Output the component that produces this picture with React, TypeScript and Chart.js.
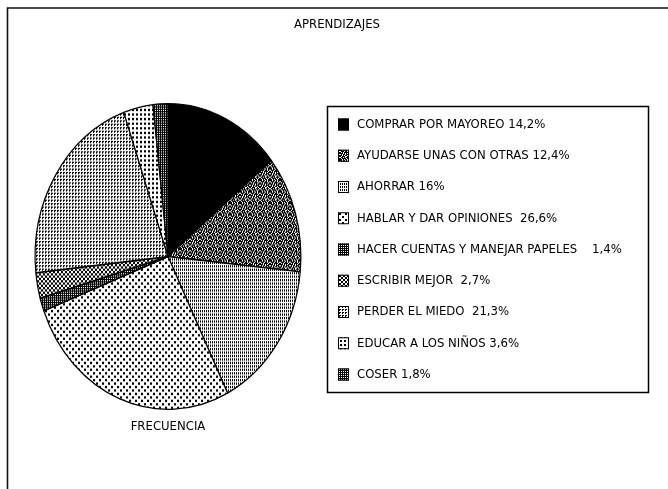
import { useEffect, useRef } from "react";
import { Chart, registerables } from "chart.js";

Chart.register(...registerables);

const TITLE = "APRENDIZAJES";
const PIE_LABEL = "FRECUENCIA";
const categories = [
  "COMPRAR POR MAYOREO",
  "AYUDARSE UNAS CON OTRAS",
  "AHORRAR",
  "HABLAR Y DAR OPINIONES",
  "HACER CUENTAS Y MANEJAR PAPELES",
  "ESCRIBIR MEJOR",
  "PERDER EL MIEDO",
  "EDUCAR A LOS NIÑOS",
  "COSER",
];
const values = [14.2, 12.4, 16, 26.6, 1.4, 2.7, 21.3, 3.6, 1.8];
const legendLabels = [
  "COMPRAR POR MAYOREO 14,2%",
  "AYUDARSE UNAS CON OTRAS 12,4%",
  "AHORRAR 16%",
  "HABLAR Y DAR OPINIONES  26,6%",
  "HACER CUENTAS Y MANEJAR PAPELES    1,4%",
  "ESCRIBIR MEJOR  2,7%",
  "PERDER EL MIEDO  21,3%",
  "EDUCAR A LOS NIÑOS 3,6%",
  "COSER 1,8%",
];

// Halftone tiles for each slice ('#' = black, '.' = white)
const tiles: string[][] = [
  ["#"],
  ["##.##.#.##", ".###.##.#.", "#.#.####.#", "###.#.#.##", ".#.##.###.", "##.#.##.##", "#.###..#.#", ".##.#.###.", "#.####.#.#", "##.#.##.##"],
  ["#.", "#.", ".."],
  ["##....", "##....", "......", "...##.", "...##.", "......"],
  ["##", "#."],
  ["#..#", ".##.", ".##.", "#..#"],
  ["##.", "#..", "..."],
  ["##..", "##..", "....", "...."],
  ["##", "#."],
];

const FONT_FAMILY = "'Liberation Sans Narrow', 'DejaVu Sans Condensed', 'Liberation Sans', sans-serif";

function makePattern(rows: string[]): CanvasPattern | string {
  const h = rows.length;
  const w = rows[0].length;
  const c = document.createElement("canvas");
  c.width = w;
  c.height = h;
  const cx = c.getContext("2d")!;
  cx.fillStyle = "#ffffff";
  cx.fillRect(0, 0, w, h);
  cx.fillStyle = "#000000";
  for (let y = 0; y < h; y++) {
    for (let x = 0; x < w; x++) {
      if (rows[y][x] === "#") cx.fillRect(x, y, 1, 1);
    }
  }
  const p = cx.createPattern(c, "repeat");
  return p || "#777";
}

const Y_STRETCH = 1.15;

export default function App() {
  const ref = useRef<HTMLCanvasElement>(null);

  useEffect(() => {
    const canvas = ref.current;
    if (!canvas) return;
    const patterns = tiles.map(makePattern);

    const ellipse = {
      id: "ellipse",
      beforeDatasetsDraw(chart: any) {
        const arc = chart.getDatasetMeta(0).data[0];
        const ctx = chart.ctx;
        ctx.save();
        ctx.translate(arc.x, arc.y);
        ctx.scale(1, Y_STRETCH);
        ctx.translate(-arc.x, -arc.y);
      },
      afterDatasetsDraw(chart: any) {
        chart.ctx.restore();
      },
    };

    const decor = {
      id: "decor",
      afterDraw(chart: any) {
        const ctx = chart.ctx as CanvasRenderingContext2D;
        const arc = chart.getDatasetMeta(0).data[0];
        ctx.save();
        // outer frame
        ctx.strokeStyle = "#111";
        ctx.lineWidth = 1.6;
        ctx.beginPath();
        ctx.moveTo(668, 8);
        ctx.lineTo(7.5, 8);
        ctx.lineTo(7.5, 489);
        ctx.stroke();

        ctx.fillStyle = "#000";
        ctx.strokeStyle = "#000";
        ctx.textBaseline = "middle";
        ctx.textAlign = "center";
        ctx.font = `13px ${FONT_FAMILY}`;
        ctx.fillText(TITLE, 337, 25);
        ctx.fillText(PIE_LABEL, arc.x, 427);

        // legend box
        ctx.lineWidth = 1.5;
        ctx.strokeRect(327.5, 106.5, 321, 286);
        ctx.textAlign = "left";
        const ds = chart.data.datasets[0];
        legendLabels.forEach((label, i) => {
          const y = 124 + i * 31.25;
          ctx.fillStyle = ds.backgroundColor[i];
          ctx.fillRect(338, y - 5.5, 11, 12);
          ctx.lineWidth = 1;
          ctx.strokeStyle = "#000";
          ctx.strokeRect(338.5, y - 5, 10, 11);
          ctx.fillStyle = "#000";
          ctx.fillText(label, 357, y + 0.5);
        });
        ctx.restore();
      },
    };

    const chart = new Chart(canvas, {
      type: "pie",
      data: {
        labels: categories,
        datasets: [
          {
            data: values,
            backgroundColor: patterns as any,
            borderColor: "#000",
            borderWidth: 1.2,
            clip: false as any,
          },
        ],
      },
      options: {
        responsive: false,
        animation: false,
        events: [],
        layout: { padding: { left: 34.5, right: 366.5, top: 90, bottom: 66 } },
        plugins: {
          legend: { display: false },
          title: { display: false },
          tooltip: { enabled: false },
        },
      },
      plugins: [ellipse, decor],
    });
    return () => chart.destroy();
  }, []);

  return (
    <div style={{ position: "fixed", left: 0, top: 0, width: 668, height: 489, background: "#fff" }}>
      <canvas ref={ref} width={668} height={489} style={{ display: "block" }} />
    </div>
  );
}
